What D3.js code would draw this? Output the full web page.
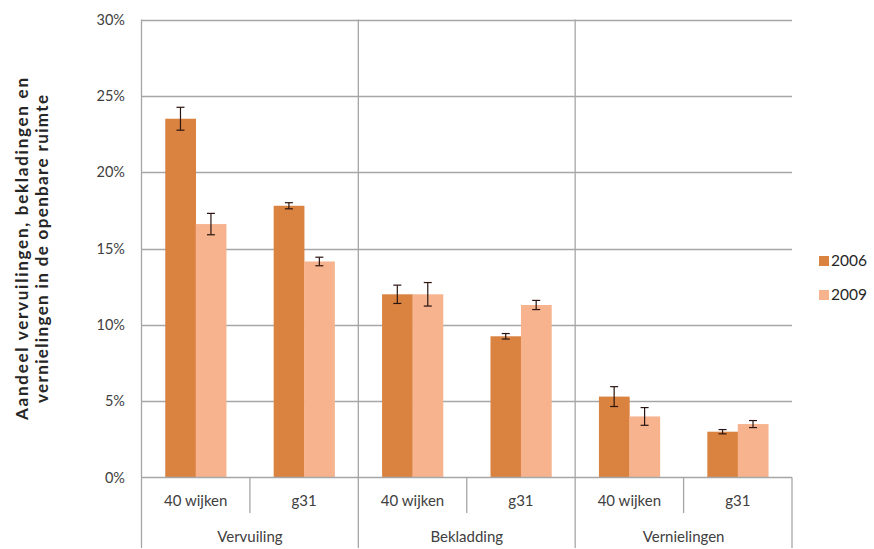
<!DOCTYPE html>
<html><head><meta charset="utf-8">
<script src="https://cdn.jsdelivr.net/npm/d3@7"></script>
<style>body{margin:0;background:#fff}svg{display:block}text{font-family:Lato,"Open Sans",sans-serif}</style>
</head><body><svg id="c" width="874" height="549"></svg>
<script>
const groups = ["Vervuiling","Bekladding","Vernielingen"];
const subcats = ["40 wijken","g31"];
const series = ["2006","2009"];
const values2006 = [23.5, 17.8, 12.0, 9.25, 5.3, 3.0];
const values2009 = [16.6, 14.15, 12.0, 11.3, 4.0, 3.5];
const err2006 = [0.75, 0.2, 0.6, 0.18, 0.65, 0.14];
const err2009 = [0.7, 0.28, 0.77, 0.3, 0.58, 0.23];
const yTicks = [0,5,10,15,20,25,30];
const colors = ["#DA8240","#F6B38E"];

const svg = d3.select("#c");
const L=141.5, R=792, T=19.5, B=477.5;
const cats = [];
groups.forEach(g=>subcats.forEach(s=>cats.push(g+"|"+s)));
const x = d3.scaleBand().domain(cats).range([L,R]);
const xg = d3.scaleBand().domain(groups).range([L,R]);
const y = d3.scaleLinear().domain([0,30]).range([B,T]);
const xs = d3.scaleBand().domain(series).range([0,x.bandwidth()]).paddingInner(0).paddingOuter(0.78);
const grid="#A6A6A6";

svg.append("g").selectAll("line").data(yTicks.filter(d=>d>0)).join("line")
 .attr("x1",L).attr("x2",R).attr("y1",d=>Math.round(y(d))+0.5).attr("y2",d=>Math.round(y(d))+0.5)
 .attr("stroke",grid).attr("stroke-width",1.3);
svg.append("g").selectAll("text").data(yTicks).join("text")
 .attr("x",125).attr("y",d=>y(d)+5).attr("text-anchor","end").attr("font-size",14.5).attr("fill","#404040")
 .text(d=>d+"%");

const data=[];
cats.forEach((c,i)=>{data.push({c,s:"2006",v:values2006[i],e:err2006[i]});data.push({c,s:"2009",v:values2009[i],e:err2009[i]});});
svg.append("g").selectAll("rect").data(data).join("rect")
 .attr("x",d=>x(d.c)+xs(d.s)).attr("width",xs.bandwidth()+0.3)
 .attr("y",d=>y(d.v)).attr("height",d=>B-y(d.v))
 .attr("fill",d=>colors[series.indexOf(d.s)]);
const eg=svg.append("g").attr("stroke","#2a1510").attr("stroke-width",1.2);
data.forEach(d=>{
  const cx=x(d.c)+xs(d.s)+xs.bandwidth()/2;
  eg.append("line").attr("x1",cx).attr("x2",cx).attr("y1",y(d.v+d.e)).attr("y2",y(d.v-d.e));
  eg.append("line").attr("x1",cx-4).attr("x2",cx+4).attr("y1",y(d.v+d.e)).attr("y2",y(d.v+d.e));
  eg.append("line").attr("x1",cx-4).attr("x2",cx+4).attr("y1",y(d.v-d.e)).attr("y2",y(d.v-d.e));
});

const ax=svg.append("g").attr("stroke",grid).attr("stroke-width",1.3);
ax.append("line").attr("x1",L).attr("x2",R).attr("y1",B).attr("y2",B);
ax.append("line").attr("x1",L).attr("x2",L).attr("y1",T).attr("y2",548);
groups.slice(1).forEach(g=>ax.append("line").attr("x1",xg(g)).attr("x2",xg(g)).attr("y1",T).attr("y2",548));
ax.append("line").attr("x1",R).attr("x2",R).attr("y1",B).attr("y2",548);
groups.forEach(g=>{const m=xg(g)+xg.bandwidth()/2;ax.append("line").attr("x1",m).attr("x2",m).attr("y1",B).attr("y2",513);});

svg.append("g").selectAll("text").data(cats).join("text")
 .attr("x",d=>x(d)+x.bandwidth()/2).attr("y",506).attr("text-anchor","middle").attr("font-size",15).attr("fill","#404040")
 .text(d=>d.split("|")[1]);
svg.append("g").selectAll("text").data(groups).join("text")
 .attr("x",d=>xg(d)+xg.bandwidth()/2).attr("y",542).attr("text-anchor","middle").attr("font-size",15).attr("fill","#404040")
 .text(d=>d);

const yt=svg.append("text").attr("transform","translate(0,249) rotate(-90)").attr("text-anchor","middle")
 .attr("font-size",17).attr("font-weight","bold").attr("fill","#262626");
yt.append("tspan").attr("x",0).attr("y",28).attr("textLength",342).attr("lengthAdjust","spacing").text("Aandeel vervuilingen, bekladingen en");
yt.append("tspan").attr("x",0).attr("y",48).attr("textLength",308).attr("lengthAdjust","spacing").text("vernielingen in de openbare ruimte");

const lg=svg.append("g").selectAll("g").data(series).join("g")
 .attr("transform",(d,i)=>`translate(819,${256+i*34})`);
lg.append("rect").attr("width",10).attr("height",10).attr("fill",(d,i)=>colors[i]);
lg.append("text").attr("x",12).attr("y",10).attr("font-size",15.5).attr("fill","#262626").text(d=>d);
</script></body></html>
